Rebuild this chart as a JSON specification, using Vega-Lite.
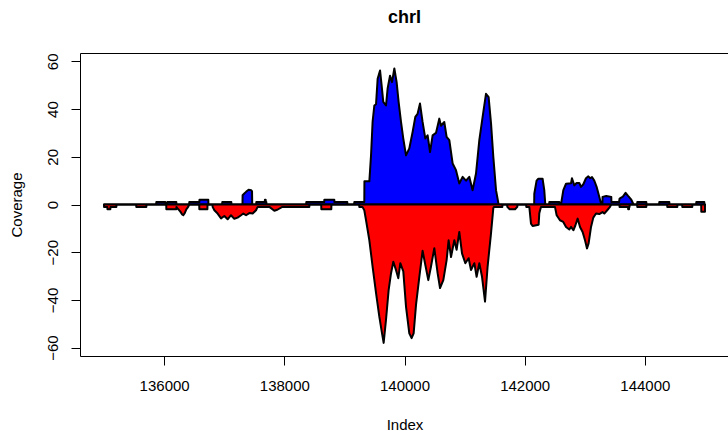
{
  "$schema": "https://vega.github.io/schema/vega-lite/v6.json",
  "width": 649,
  "height": 303,
  "autosize": "none",
  "padding": {"left": 80, "top": 53, "right": 0, "bottom": 75},
  "background": "white",
  "title": {"text": "chrI", "fontSize": 18, "font": "Liberation Sans", "fontWeight": "bold", "color": "black", "anchor": "middle", "baseline": "alphabetic", "offset": 12},
  "config": {
    "view": {"stroke": "black", "strokeWidth": 1},
    "axis": {"grid": false, "domain": false, "tickColor": "black", "tickSize": 9, "tickWidth": 1, "labelFont": "Liberation Sans", "labelFontSize": 15, "labelColor": "black", "labelFlush": false, "labelOverlap": false, "titleFont": "Liberation Sans", "titleFontSize": 15, "titleFontWeight": "normal", "titleColor": "black"}
  },
  "datasets": {
    "plus": [
      {"x":135000,"y":0},
      {"x":135868,"y":0},{"x":135870,"y":1},{"x":136020,"y":1},{"x":136022,"y":0},
      {"x":136051,"y":0},{"x":136053,"y":1},{"x":136203,"y":1},{"x":136205,"y":0},
      {"x":136417,"y":0},{"x":136419,"y":1},{"x":136586,"y":1},{"x":136588,"y":2},{"x":136735,"y":2},{"x":136737,"y":0},
      {"x":136966,"y":0},{"x":136968,"y":1},{"x":137118,"y":1},{"x":137120,"y":0},
      {"x":137304,"y":0},{"x":137306,"y":3.9},{"x":137330,"y":4.5},{"x":137363,"y":5.3},{"x":137406,"y":6.2},{"x":137450,"y":6},{"x":137463,"y":5.5},{"x":137466,"y":0},
      {"x":137532,"y":0},{"x":137534,"y":1},{"x":137675,"y":1},{"x":137677,"y":2},{"x":137690,"y":2},{"x":137692,"y":1},{"x":137701,"y":1},{"x":137703,"y":0},
      {"x":138364,"y":0},{"x":138366,"y":1},{"x":138664,"y":1},{"x":138666,"y":2},{"x":138832,"y":2},{"x":138834,"y":1},{"x":139048,"y":1},{"x":139050,"y":0},
      {"x":139163,"y":0},{"x":139165,"y":1},{"x":139331,"y":1},{"x":139333,"y":9.7},{"x":139415,"y":9.7},{"x":139443,"y":20.6},{"x":139469,"y":34.6},{"x":139498,"y":41.5},{"x":139526,"y":42},{"x":139553,"y":52.7},{"x":139593,"y":56.2},{"x":139619,"y":50},{"x":139647,"y":43},{"x":139692,"y":41.5},{"x":139719,"y":48.6},{"x":139759,"y":54},{"x":139792,"y":51.3},{"x":139831,"y":57},{"x":139869,"y":51.3},{"x":139902,"y":43},{"x":139942,"y":34.6},{"x":139980,"y":27.6},{"x":140025,"y":20.6},{"x":140080,"y":23.5},{"x":140135,"y":30.4},{"x":140180,"y":36.7},{"x":140218,"y":38},{"x":140258,"y":42.3},{"x":140301,"y":34.6},{"x":140346,"y":27.7},{"x":140385,"y":29},{"x":140425,"y":22},{"x":140468,"y":29},{"x":140524,"y":30},{"x":140579,"y":36},{"x":140607,"y":33},{"x":140662,"y":34.6},{"x":140701,"y":28.3},{"x":140746,"y":27},{"x":140801,"y":17.2},{"x":140857,"y":14.4},{"x":140912,"y":8.8},{"x":140967,"y":11.6},{"x":141024,"y":10},{"x":141078,"y":11.6},{"x":141133,"y":6},{"x":141190,"y":13},{"x":141245,"y":27},{"x":141300,"y":36.7},{"x":141356,"y":46.4},{"x":141400,"y":45},{"x":141440,"y":34},{"x":141478,"y":20},{"x":141523,"y":6},{"x":141566,"y":0},
      {"x":142158,"y":0},{"x":142160,"y":4.5},{"x":142198,"y":10},{"x":142227,"y":10.8},{"x":142298,"y":10.8},{"x":142326,"y":6},{"x":142343,"y":0},
      {"x":142408,"y":0},{"x":142410,"y":1},{"x":142576,"y":1},{"x":142578,"y":0},
      {"x":142604,"y":0},{"x":142643,"y":6},{"x":142688,"y":8.7},{"x":142771,"y":8.9},{"x":142787,"y":11},{"x":142826,"y":8},{"x":142864,"y":9},{"x":142909,"y":9},{"x":142937,"y":7.4},{"x":142976,"y":8.5},{"x":143020,"y":11},{"x":143059,"y":11.8},{"x":143092,"y":11},{"x":143120,"y":11.5},{"x":143158,"y":10},{"x":143197,"y":7.4},{"x":143241,"y":3.2},{"x":143269,"y":0.5},{"x":143294,"y":0.5},{"x":143296,"y":3.2},{"x":143357,"y":3.6},{"x":143441,"y":3.2},{"x":143443,"y":1},{"x":143570,"y":1},{"x":143579,"y":2.5},{"x":143634,"y":3.3},{"x":143679,"y":4.9},{"x":143717,"y":3.7},{"x":143774,"y":2},{"x":143812,"y":0},
      {"x":143872,"y":0},{"x":143874,"y":1},{"x":144024,"y":1},{"x":144026,"y":0},
      {"x":144238,"y":0},{"x":144240,"y":1},{"x":144407,"y":1},{"x":144409,"y":0},
      {"x":144854,"y":0},{"x":144856,"y":1},{"x":144989,"y":1},{"x":144991,"y":0},{"x":145000,"y":0}
    ],
    "minus": [
      {"x":135000,"y":-1},{"x":135055,"y":-1},{"x":135057,"y":-2},{"x":135105,"y":-2},{"x":135107,"y":-1},{"x":135205,"y":-1},{"x":135207,"y":0},
      {"x":135535,"y":0},{"x":135537,"y":-1},{"x":135704,"y":-1},{"x":135706,"y":0},
      {"x":136035,"y":0},{"x":136037,"y":-2},{"x":136203,"y":-2},{"x":136205,"y":-1},{"x":136220,"y":-1.5},{"x":136270,"y":-3},{"x":136300,"y":-4.2},{"x":136319,"y":-4.5},{"x":136345,"y":-3.5},{"x":136369,"y":-2},{"x":136400,"y":-1},{"x":136419,"y":0},
      {"x":136584,"y":0},{"x":136586,"y":-2},{"x":136720,"y":-2},{"x":136722,"y":0},
      {"x":136805,"y":0},{"x":136807,"y":-1},{"x":136836,"y":-2.4},{"x":136890,"y":-3.8},{"x":136947,"y":-5.8},{"x":137002,"y":-4.8},{"x":137057,"y":-6.2},{"x":137113,"y":-4.5},{"x":137168,"y":-6},{"x":137223,"y":-5.5},{"x":137280,"y":-4.5},{"x":137318,"y":-3.8},{"x":137363,"y":-4.5},{"x":137418,"y":-3.6},{"x":137473,"y":-3.8},{"x":137529,"y":-2.4},{"x":137556,"y":-1},{"x":137751,"y":-1},{"x":137834,"y":-2.6},{"x":137884,"y":-2.2},{"x":137967,"y":-1},{"x":138416,"y":-1},{"x":138418,"y":0},
      {"x":138614,"y":0},{"x":138616,"y":-2},{"x":138782,"y":-2},{"x":138784,"y":0},
      {"x":139246,"y":0},{"x":139248,"y":-1},{"x":139300,"y":-1},{"x":139331,"y":-2.4},{"x":139360,"y":-6.6},{"x":139415,"y":-15},{"x":139469,"y":-26},{"x":139526,"y":-37},{"x":139581,"y":-47},{"x":139626,"y":-54},{"x":139653,"y":-58},{"x":139692,"y":-48.4},{"x":139736,"y":-35.9},{"x":139776,"y":-28.8},{"x":139814,"y":-24},{"x":139859,"y":-27.5},{"x":139897,"y":-30.9},{"x":139930,"y":-24.6},{"x":139980,"y":-28},{"x":140025,"y":-42.8},{"x":140080,"y":-54},{"x":140118,"y":-56},{"x":140152,"y":-54},{"x":140192,"y":-42},{"x":140247,"y":-30.3},{"x":140301,"y":-19.4},{"x":140341,"y":-24.6},{"x":140396,"y":-31.7},{"x":140441,"y":-26},{"x":140496,"y":-18.3},{"x":140551,"y":-28.8},{"x":140591,"y":-35},{"x":140646,"y":-31.7},{"x":140701,"y":-23.3},{"x":140734,"y":-15},{"x":140774,"y":-22},{"x":140829,"y":-15},{"x":140867,"y":-19},{"x":140912,"y":-11.5},{"x":140957,"y":-20.5},{"x":141012,"y":-24.6},{"x":141067,"y":-22.5},{"x":141107,"y":-27.5},{"x":141162,"y":-24.6},{"x":141200,"y":-30.3},{"x":141245,"y":-24.6},{"x":141290,"y":-30.3},{"x":141340,"y":-40.7},{"x":141383,"y":-26},{"x":141440,"y":-12},{"x":141478,"y":-1.5},{"x":141490,"y":-1},{"x":141628,"y":-1},{"x":141630,"y":0},
      {"x":141709,"y":0},{"x":141711,"y":-1},{"x":141750,"y":-2},{"x":141840,"y":-2},{"x":141877,"y":-1},{"x":141879,"y":0},
      {"x":142025,"y":0},{"x":142027,"y":-1},{"x":142077,"y":-1},{"x":142105,"y":-8},{"x":142132,"y":-9},{"x":142232,"y":-8.5},{"x":142243,"y":-3.7},{"x":142271,"y":-1},{"x":142504,"y":-1},{"x":142532,"y":-4.5},{"x":142587,"y":-6.6},{"x":142642,"y":-7.3},{"x":142688,"y":-9.4},{"x":142743,"y":-10.5},{"x":142771,"y":-9.4},{"x":142810,"y":-10.8},{"x":142843,"y":-8.8},{"x":142881,"y":-5.9},{"x":142921,"y":-9.4},{"x":142964,"y":-11.5},{"x":143004,"y":-15},{"x":143037,"y":-18.4},{"x":143064,"y":-16.3},{"x":143104,"y":-9.4},{"x":143142,"y":-5.5},{"x":143187,"y":-3.8},{"x":143241,"y":-4},{"x":143296,"y":-3.2},{"x":143325,"y":-3.8},{"x":143380,"y":-2.2},{"x":143420,"y":-1},{"x":143441,"y":0},
      {"x":143577,"y":0},{"x":143579,"y":-1},{"x":143720,"y":-1},{"x":143722,"y":-2},{"x":143736,"y":-2},{"x":143738,"y":-1},{"x":143745,"y":-1},{"x":143747,"y":0},
      {"x":143872,"y":0},{"x":143874,"y":-1},{"x":144024,"y":-1},{"x":144026,"y":0},
      {"x":144371,"y":0},{"x":144373,"y":-1},{"x":144540,"y":-1},{"x":144542,"y":0},
      {"x":144621,"y":0},{"x":144623,"y":-1},{"x":144789,"y":-1},{"x":144791,"y":0},
      {"x":144937,"y":0},{"x":144939,"y":-3},{"x":145000,"y":-3}
    ]
  },
  "encoding": {
    "x": {"field": "x", "type": "quantitative", "scale": {"domain": [134600, 145400], "nice": false, "zero": false},
      "axis": {"title": "Index", "values": [136000, 138000, 140000, 142000, 144000], "format": "d", "labelBaseline": "alphabetic", "labelPadding": 25, "titleY": 73, "titleBaseline": "alphabetic"}},
    "y": {"field": "y", "type": "quantitative", "stack": null, "scale": {"domain": [-63.5, 63.5], "nice": false, "zero": false},
      "axis": {"title": "Coverage", "values": [-60, -40, -20, 0, 20, 40, 60], "labelAngle": -90, "labelAlign": "center", "labelBaseline": "alphabetic", "labelPadding": 13.5, "titleAngle": -90, "titleX": -59, "titleY": 151.5, "titleBaseline": "alphabetic", "titleAlign": "center"}},
    "y2": {"datum": 0}
  },
  "layer": [
    {"data": {"name": "plus"}, "mark": {"type": "area", "fill": "#0000ff", "stroke": "black", "strokeWidth": 2, "strokeJoin": "round", "clip": true}},
    {"data": {"name": "minus"}, "mark": {"type": "area", "fill": "#ff0000", "stroke": "black", "strokeWidth": 2, "strokeJoin": "round", "clip": true}}
  ]
}
